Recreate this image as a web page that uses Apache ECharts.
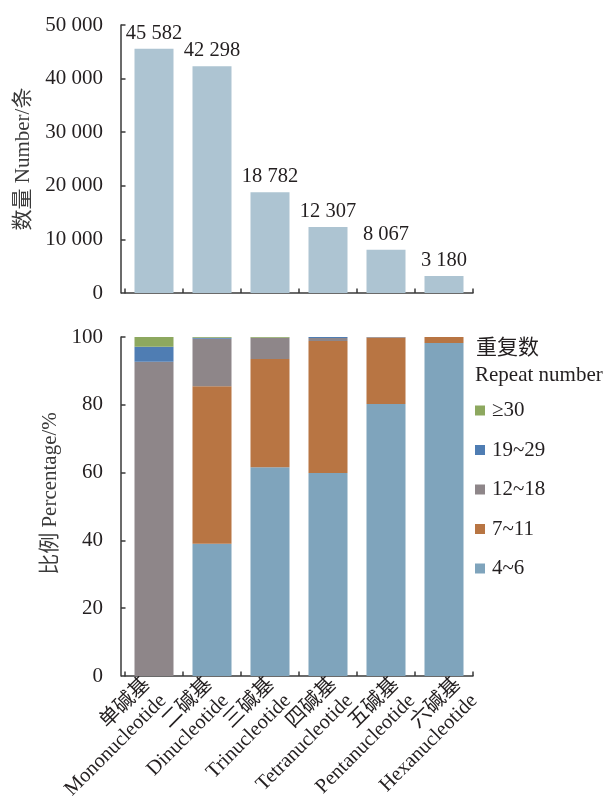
<!DOCTYPE html>
<html>
<head>
<meta charset="utf-8">
<script src="https://cdn.jsdelivr.net/npm/echarts@6/dist/echarts.min.js"></script>
<style>
  html, body { margin: 0; padding: 0; background: #fff; }
  #chart { width: 603px; height: 803px; }
</style>
</head>
<body>
<div id="chart"></div>
<script>
// Motif classes (Chinese / English)
const categoriesZh = ['单碱基', '二碱基', '三碱基', '四碱基', '五碱基', '六碱基'];
const categoriesEn = ['Mononucleotide', 'Dinucleotide', 'Trinucleotide', 'Tetranucleotide', 'Pentanucleotide', 'Hexanucleotide'];

// SSR counts per motif class
const counts = [45582, 42298, 18782, 12307, 8067, 3180];

// Share (%) of each repeat-number class within a motif class
const share4to6   = [0,    39.0, 61.6, 59.9, 80.2, 98.2];
const share7to11  = [0,    46.5, 31.9, 38.9, 19.6, 1.8];
const share12to18 = [92.7, 14.0, 6.3,  0.9,  0.2,  0];
const share19to29 = [4.4,  0.3,  0,    0.3,  0,    0];
const share30plus = [2.9,  0.2,  0.2,  0,    0,    0];

const repeatClasses = ['4~6', '7~11', '12~18', '19~29', '≥30'];

const countTicks = { min: 0, max: 50000, interval: 10000 };
const shareTicks = { min: 0, max: 100, interval: 20 };

const FONT = '"Liberation Serif", "Noto Sans CJK SC", serif';
const INK = '#231f20';
const AXIS = '#3a3a3a';

const spaced = v => String(v).replace(/\B(?=(\d{3})+(?!\d))/g, ' ');

const chart = echarts.init(document.getElementById('chart'), null, { renderer: 'canvas' });

const axisLine = { show: true, lineStyle: { color: AXIS, width: 1.5 } };
const axisTick = { show: true, inside: true, length: 4.5, lineStyle: { color: AXIS, width: 1.5 } };

const stackColors = ['#7fa4bc', '#b87543', '#8e8689', '#4f7db3', '#8da85f'];
const stackData = [share4to6, share7to11, share12to18, share19to29, share30plus];

const option = {
  animation: false,
  backgroundColor: '#ffffff',
  textStyle: { fontFamily: FONT },
  title: [
    { text: '重复数', left: 471, top: 333,
      textStyle: { fontFamily: FONT, fontSize: 21, fontWeight: 'normal', color: INK } },
    { text: 'Repeat number', left: 470, top: 360,
      textStyle: { fontFamily: FONT, fontSize: 21, fontWeight: 'normal', color: INK } }
  ],
  legend: {
    orient: 'vertical',
    left: 470,
    top: 395,
    data: repeatClasses.slice().reverse(),
    icon: 'rect',
    itemWidth: 10,
    itemHeight: 10,
    itemGap: 18.5,
    selectedMode: false,
    textStyle: { fontFamily: FONT, fontSize: 21, lineHeight: 20, color: INK, padding: [0, 0, 0, 2] }
  },
  grid: [
    { left: 125, top: 25, width: 348, height: 268 },
    { left: 125, top: 337, width: 348, height: 339 },
    // carries the two-line category captions under the lower panel
    { left: 124, top: 337, width: 373, height: 339 }
  ],
  xAxis: [
    {
      type: 'category', gridIndex: 0, data: categoriesZh,
      axisLine: axisLine, axisTick: axisTick,
      axisLabel: { show: false }
    },
    {
      type: 'category', gridIndex: 1, data: categoriesZh,
      axisLine: axisLine, axisTick: axisTick,
      axisLabel: { show: false }
    },
    {
      type: 'category', gridIndex: 2, data: categoriesZh,
      axisLine: { show: false }, axisTick: { show: false },
      axisLabel: {
        rotate: 45, margin: 17, interval: 0,
        fontFamily: FONT, fontSize: 20.5, lineHeight: 23, color: INK,
        formatter: (v, i) => v + '\n' + categoriesEn[i]
      }
    }
  ],
  yAxis: [
    {
      type: 'value', gridIndex: 0, offset: 4,
      min: countTicks.min, max: countTicks.max, interval: countTicks.interval,
      axisLine: axisLine, axisTick: axisTick, splitLine: { show: false },
      axisLabel: { margin: 18, fontFamily: FONT, fontSize: 21, color: INK, formatter: spaced },
      name: '数量 Number/条', nameLocation: 'middle', nameGap: 85,
      nameTextStyle: { fontFamily: FONT, fontSize: 21, color: '#3a3a3a' }
    },
    {
      type: 'value', gridIndex: 1, offset: 4,
      min: shareTicks.min, max: shareTicks.max, interval: shareTicks.interval,
      axisLine: axisLine, axisTick: axisTick, splitLine: { show: false },
      axisLabel: { margin: 18, fontFamily: FONT, fontSize: 21, color: INK },
      name: '比例 Percentage/%', nameLocation: 'middle', nameGap: 59,
      nameTextStyle: { fontFamily: FONT, fontSize: 21, color: '#3a3a3a', padding: [0, 0, 0, 26] }
    },
    { type: 'value', gridIndex: 2, show: false }
  ],
  series: [
    {
      name: 'count', type: 'bar', xAxisIndex: 0, yAxisIndex: 0,
      data: counts, barWidth: 39,
      itemStyle: { color: '#adc4d2' },
      label: {
        show: true, position: 'top', distance: 5,
        fontFamily: FONT, fontSize: 20.5, color: INK,
        formatter: p => spaced(p.value)
      }
    }
  ].concat(repeatClasses.map((name, k) => ({
    name: name, type: 'bar', xAxisIndex: 1, yAxisIndex: 1,
    stack: 'share', barWidth: 39,
    data: stackData[k],
    itemStyle: { color: stackColors[k] }
  })))
};

chart.setOption(option);
</script>
</body>
</html>
